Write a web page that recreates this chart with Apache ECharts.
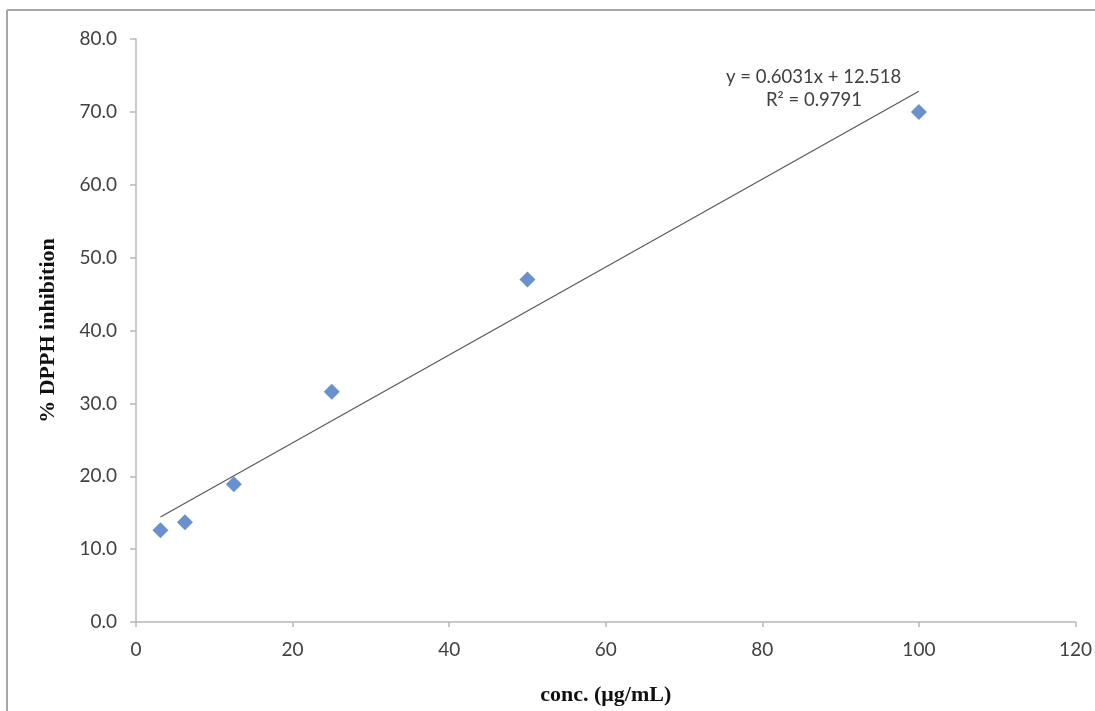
<!DOCTYPE html>
<html>
<head>
<meta charset="utf-8">
<script src="https://cdn.jsdelivr.net/npm/echarts@6/dist/echarts.min.js"></script>
<style>
  html, body { margin: 0; padding: 0; background: #fff; }
  #chart { width: 1095px; height: 711px; }
</style>
</head>
<body>
<div id="chart"></div>
<script>
// Sample concentrations (µg/mL) and measured % DPPH inhibition
const concentrations = [3.125, 6.25, 12.5, 25, 50, 100];
const inhibition = [12.6, 13.7, 18.9, 31.6, 47.0, 70.0];

// Linear fit reported on the chart
const fitSlope = 0.6031;
const fitIntercept = 12.518;
const fitR2 = '0.9791';

const xTicks = { min: 0, max: 120, interval: 20 };
const yTicks = { min: 0, max: 80, interval: 10 };

const points = concentrations.map((c, i) => [c, inhibition[i]]);
const xStart = concentrations[0];
const xEnd = concentrations[concentrations.length - 1];
const fitLine = [
  [xStart, fitSlope * xStart + fitIntercept],
  [xEnd, fitSlope * xEnd + fitIntercept]
];

const sansStack = 'Lato, "Open Sans", sans-serif';
const tickFont = { fontFamily: sansStack, fontSize: 19, color: '#404040' };
const titleFont = { fontFamily: '"Liberation Serif", "Times New Roman", serif', fontSize: 22, fontWeight: 'bold', color: '#111' };

const chart = echarts.init(document.getElementById('chart'), null, { renderer: 'canvas' });
chart.setOption({
  animation: false,
  backgroundColor: '#ffffff',
  grid: { left: 136, right: 18, top: 39, bottom: 89, containLabel: false },
  xAxis: {
    type: 'value',
    min: xTicks.min, max: xTicks.max, interval: xTicks.interval,
    name: 'conc. (μg/mL)',
    nameLocation: 'middle',
    nameGap: 62,
    nameTextStyle: titleFont,
    axisLine: { show: true, lineStyle: { color: '#b8b8b8', width: 1.5 } },
    axisTick: { show: true, inside: false, length: 5, lineStyle: { color: '#b8b8b8', width: 1.5 } },
    axisLabel: Object.assign({ margin: 18 }, tickFont),
    splitLine: { show: false }
  },
  yAxis: {
    type: 'value',
    min: yTicks.min, max: yTicks.max, interval: yTicks.interval,
    name: '% DPPH inhibition',
    nameLocation: 'middle',
    nameGap: 77,
    nameRotate: 90,
    nameTextStyle: titleFont,
    axisLine: { show: true, lineStyle: { color: '#b8b8b8', width: 1.5 } },
    axisTick: { show: true, inside: false, length: 6, lineStyle: { color: '#b8b8b8', width: 1.5 } },
    axisLabel: Object.assign({ margin: 19, formatter: v => v.toFixed(1) }, tickFont),
    splitLine: { show: false }
  },
  series: [
    {
      name: 'trend',
      type: 'line',
      data: fitLine,
      symbol: 'none',
      lineStyle: { color: '#595959', width: 1.2 },
      z: 2
    },
    {
      name: 'inhibition',
      type: 'scatter',
      data: points,
      symbol: 'diamond',
      symbolSize: [16, 16],
      itemStyle: { color: '#4276c0' },
      z: 3
    }
  ],
  graphic: [
    // chart frame
    { type: 'line', shape: { x1: 7, y1: 10, x2: 1095, y2: 10 }, style: { stroke: '#a6a6a6', lineWidth: 2 } },
    { type: 'line', shape: { x1: 7, y1: 10, x2: 7, y2: 711 }, style: { stroke: '#a6a6a6', lineWidth: 2 } },
    // trendline equation
    {
      type: 'text', left: 726, top: 68,
      style: { text: 'y = ' + fitSlope + 'x + ' + fitIntercept, font: '18.5px ' + sansStack, fill: '#404040' }
    },
    {
      type: 'text', left: 766, top: 91,
      style: { text: 'R² = ' + fitR2, font: '18.5px ' + sansStack, fill: '#404040' }
    }
  ]
});
</script>
</body>
</html>
